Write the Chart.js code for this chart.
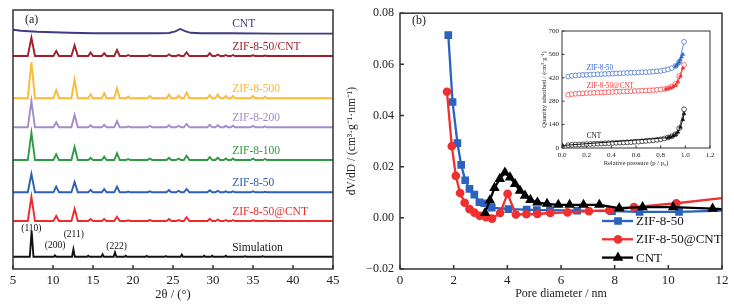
<!DOCTYPE html>
<html>
<head>
<meta charset="utf-8">
<script src="https://cdn.jsdelivr.net/npm/chart.js@4.4.0/dist/chart.umd.min.js"></script>
<style>
  body { margin: 0; background: #fff; width: 734px; height: 305px; overflow: hidden; position: relative; font-family: "Liberation Serif", "Times New Roman", serif; }
  canvas { position: absolute; }
  .tag { position: absolute; font-size: 12px; color: #222; }
</style>
</head>
<body>
<canvas id="xrd" width="345" height="305" style="left:0;top:0"></canvas>
<canvas id="pore" width="389" height="305" style="left:345px;top:0"></canvas>
<canvas id="iso" width="182" height="150" style="left:540px;top:20px"></canvas>
<div class="tag" style="left:25px;top:12px">(a)</div>
<div class="tag" style="left:412px;top:13px">(b)</div>
<script>
const SERIF = '"Liberation Serif", "Times New Roman", serif';
Chart.defaults.font.family = SERIF;
Chart.defaults.color = '#222';

// ---- (a) XRD patterns, intensities in arbitrary units above each baseline
const xrdNames = ['CNT', 'ZIF-8-50/CNT', 'ZIF-8-500', 'ZIF-8-200', 'ZIF-8-100', 'ZIF-8-50', 'ZIF-8-50@CNT', 'Simulation'];
const xrdColors = ['#3d3a80', '#a11f29', '#fbb938', '#a48ccc', '#2f9a40', '#2d5fb6', '#ef2a2e', '#111111'];
const xrdOffsets = [235.7, 213, 170.7, 141.7, 109, 76.7, 48, 12.3];

const cntTheta = [5, 6, 8, 10, 12, 15, 20, 23, 24.5, 25.3, 25.9, 26.5, 27.2, 28.5, 32, 38, 45];
const cntI     = [3.5, 2.5, 1.5, 1, 0.5, 0, 0, 0, 0.3, 2, 4.3, 2.2, 0.5, 0, 0, -0.3, -0.3];

const twoTheta = [5, 6.85, 7.3, 7.75, 10.05, 10.4, 10.75, 12.3, 12.7, 13.1, 14.4, 14.7, 15.0, 16.1, 16.4, 16.7,
  17.65, 18.0, 18.35, 19.15, 19.4, 19.65, 21.8, 22.1, 22.4, 24.2, 24.5, 24.8, 25.4, 25.7, 26.0, 26.35, 26.7, 27.05,
  29.3, 29.6, 29.9, 30.3, 30.6, 30.9, 31.35, 31.6, 31.85, 32.25, 32.5, 32.75, 34.7, 35.0, 35.3, 36.25, 36.5, 36.75, 45];
const zif50cntI = [0, 0,18.3,0, 0,5,0, 0,10.7,0, 0,3.5,0, 0,2.7,0, 0,6,0, 0,1,0, 0,1,0, 0,1.7,0, 0,1,0, 0,3.7,0,
  0,2.7,0, 0,1.5,0, 0,1,0, 0,1,0, 0,0.7,0, 0,0.5,0, 0];
const zif500I = [0, 0,36,0, 0,8.3,0, 0,18.7,0, 0,4,0, 0,5,0, 0,10,0, 0,1.7,0, 0,2.3,0, 0,3.7,0, 0,2.7,0, 0,5.7,0,
  0,3.3,0, 0,3.7,0, 0,2.3,0, 0,2.3,0, 0,2.3,0, 0,1.5,0, 0];
const zif200I = [0, 0,26.3,0, 0,5,0, 0,12.3,0, 0,2,0, 0,2.5,0, 0,6.3,0, 0,1,0, 0,1.5,0, 0,2,0, 0,1.5,0, 0,3.3,0,
  0,2.5,0, 0,2,0, 0,1.5,0, 0,1.5,0, 0,1.5,0, 0,1,0, 0];
const zif100I = [0, 0,27.3,0, 0,5.7,0, 0,13,0, 0,2,0, 0,3.3,0, 0,6.7,0, 0,1,0, 0,1.5,0, 0,2.3,0, 0,1.5,0, 0,4.3,0,
  0,3,0, 0,2.3,0, 0,1.5,0, 0,1.5,0, 0,1.5,0, 0,1,0, 0];
const zif50I = [0, 0,18.3,0, 0,5.7,0, 0,10.3,0, 0,2.5,0, 0,3.3,0, 0,5.7,0, 0,0.7,0, 0,1,0, 0,2.3,0, 0,1.5,0, 0,3.3,0,
  0,2,0, 0,1.5,0, 0,1,0, 0,1,0, 0,1,0, 0,0.5,0, 0];
const zif50atCntI = [0, 0,24.3,0, 0,5,0, 0,12,0, 0,2,0, 0,2,0, 0,4.3,0, 0,0.7,0, 0,1,0, 0,2,0, 0,1,0, 0,3.7,0,
  0,2.3,0, 0,1.5,0, 0,1,0, 0,1,0, 0,0.7,0, 0,0.5,0, 0];

const simTheta = [5, 7.1, 7.33, 7.56, 10.1, 10.25, 10.4, 12.38, 12.55, 12.72, 14.25, 14.4, 14.55, 16.05, 16.2, 16.35,
  17.58, 17.75, 17.92, 18.95, 19.1, 19.25, 21.55, 21.7, 21.85, 23.95, 24.1, 24.25, 25.95, 26.1, 26.25, 28.75, 28.9, 29.05,
  29.75, 29.9, 30.05, 31.45, 31.6, 31.75, 33.85, 34.0, 34.15, 36.05, 36.2, 36.35, 45];
const simI = [0, 0,25.7,0, 0,1.3,0, 0,7.4,0, 0,1,0, 0,2.3,0, 0,4.3,0, 0,1,0, 0,0.8,0, 0,0.7,0, 0,2,0, 0,1,0,
  0,1,0, 0,1,0, 0,0.5,0, 0,0.5,0, 0];

const xrdSeries = [[cntTheta, cntI], [twoTheta, zif50cntI], [twoTheta, zif500I], [twoTheta, zif200I],
  [twoTheta, zif100I], [twoTheta, zif50I], [twoTheta, zif50atCntI], [simTheta, simI]];
const xrdLabelTheta = 32.4;
const hklText = ['(110)', '(200)', '(211)', '(222)'];
const hklTheta = [7.3, 10.25, 12.6, 17.95];
const hklY = [40.7, 23.3, 35, 22.3];

// ---- (b) pore size distribution
const poreNames = ['ZIF-8-50', 'ZIF-8-50@CNT', 'CNT'];
const zif50D   = [1.80, 1.96, 2.14, 2.28, 2.43, 2.59, 2.77, 2.96, 3.14, 3.42, 4.04, 4.72, 5.1, 5.59, 6.6, 7.9, 8.93, 10.4, 12];
const zif50dV  = [0.0714, 0.0453, 0.0292, 0.0207, 0.0147, 0.0113, 0.0091, 0.0061, 0.0057, 0.0040, 0.0034, 0.0032, 0.0030, 0.0030, 0.0028, 0.0026, 0.0023, 0.0023, 0.0028];
const zifCntD  = [1.75, 1.93, 2.08, 2.24, 2.41, 2.59, 2.78, 2.97, 3.2, 3.43, 3.73, 4.01, 4.32, 4.71, 5.12, 5.6, 6.24, 7.04, 7.8, 8.72, 10.3, 12];
const zifCntdV = [0.0493, 0.028, 0.0164, 0.0097, 0.0059, 0.0034, 0.002, 0.0008, 0.0003, -0.0003, 0.0019, 0.0094, 0.0013, 0.0014, 0.0015, 0.0019, 0.0021, 0.0026, 0.0029, 0.0042, 0.0057, 0.0077];
const cntD     = [3.17, 3.35, 3.52, 3.72, 3.91, 4.1, 4.29, 4.47, 4.66, 4.86, 5.12, 5.48, 5.9, 6.32, 6.84, 7.43, 8.17, 9.04, 10.18, 11.65, 12];
const cntdV    = [0.0019, 0.0068, 0.0117, 0.0152, 0.0177, 0.0158, 0.0132, 0.0106, 0.0087, 0.007, 0.006, 0.0055, 0.0051, 0.0051, 0.0051, 0.0051, 0.0038, 0.0042, 0.0042, 0.0036, 0.0034];

// ---- inset: N2 isotherms
const isoP = [0.05, 0.08, 0.11, 0.14, 0.17, 0.20, 0.23, 0.26, 0.29, 0.32, 0.35, 0.38, 0.41, 0.44, 0.47, 0.50,
  0.53, 0.56, 0.59, 0.62, 0.65, 0.68, 0.71, 0.74, 0.77, 0.80, 0.83, 0.86, 0.89, 0.92, 0.95, 0.99];
const zif50Open = [428, 432, 434, 436, 437, 438, 439, 440, 441, 442, 443, 444, 445, 446, 447, 448,
  449, 450, 451, 452, 453, 454, 455, 457, 459, 461, 465, 470, 478, 490, 515, 635];
const zifCntOpen = [318, 322, 324, 326, 327, 328, 329, 330, 331, 332, 333, 334, 335, 336, 337, 338,
  339, 340, 341, 342, 343, 344, 345, 346, 348, 350, 353, 358, 367, 383, 430, 497];
const cntOpen = [17, 19, 20, 21, 22, 23, 24, 25, 26, 27, 28, 29, 30, 31, 32, 33,
  34, 35, 37, 38, 40, 42, 44, 46, 49, 52, 57, 63, 70, 82, 118, 231];
const zif50FillP = [0.92, 0.93, 0.94, 0.95, 0.96, 0.97, 0.98];
const zif50Fill  = [488, 495, 505, 515, 530, 545, 560];
const zifCntFillP = [0.84, 0.86, 0.88, 0.90, 0.92, 0.94, 0.96, 0.98];
const zifCntFill  = [352, 356, 360, 366, 375, 395, 430, 478];
const cntFillP = [0.005, 0.86, 0.88, 0.90, 0.92, 0.94, 0.96, 0.98, 0.99];
const cntFill  = [15, 62, 66, 72, 80, 95, 125, 170, 205];
const isoLabels = ['ZIF-8-50', 'ZIF-8-50@CNT', 'CNT'];
const isoColors = ['#3366cc', '#f03535', '#111111'];
const isoLabelP = [0.2, 0.2, 0.2];
const isoLabelQ = [480, 372, 72];

const pts = (xs, ys, off = 0) => xs.map((x, i) => ({ x, y: ys[i] + off }));

// box frame + inward tick marks
const frame = {
  id: 'frame',
  afterDatasetsDraw(chart, args, o) {
    const { ctx, chartArea: a } = chart;
    ctx.save();
    ctx.strokeStyle = o.color;
    ctx.lineWidth = o.width;
    ctx.strokeRect(a.left, a.top, a.right - a.left, a.bottom - a.top);
    ctx.beginPath();
    (o.axes || []).forEach(id => {
      const s = chart.scales[id];
      s.ticks.forEach(t => {
        const p = s.getPixelForValue(t.value);
        if (s.isHorizontal()) { ctx.moveTo(p, a.bottom); ctx.lineTo(p, a.bottom - o.len); }
        else { ctx.moveTo(a.left, p); ctx.lineTo(a.left + o.len, p); }
      });
    });
    ctx.stroke();
    ctx.restore();
  }
};

const xrdText = {
  id: 'xrdText',
  afterDatasetsDraw(chart) {
    const { ctx, scales: { x, y } } = chart;
    ctx.save();
    ctx.textBaseline = 'middle';
    ctx.font = '11.5px ' + SERIF;
    xrdNames.forEach((n, i) => {
      ctx.fillStyle = xrdColors[i];
      ctx.fillText(n, x.getPixelForValue(xrdLabelTheta), y.getPixelForValue(xrdOffsets[i] + 9));
    });
    ctx.font = '9.5px ' + SERIF;
    ctx.textAlign = 'center';
    ctx.fillStyle = '#111';
    hklText.forEach((t, i) => ctx.fillText(t, x.getPixelForValue(hklTheta[i]), y.getPixelForValue(hklY[i])));
    ctx.restore();
  }
};

new Chart(document.getElementById('xrd'), {
  type: 'line',
  data: {
    datasets: xrdSeries.map(([th, I], i) => ({
      label: xrdNames[i],
      data: pts(th, I, xrdOffsets[i]),
      borderColor: xrdColors[i],
      borderWidth: 1.9,
      pointRadius: 0,
      tension: 0
    }))
  },
  options: {
    responsive: false, animation: false, devicePixelRatio: 1,
    layout: { padding: { left: 13, right: 12, top: 10, bottom: 0 } },
    plugins: {
      legend: { display: false }, tooltip: { enabled: false },
      frame: { color: '#333', width: 1.5, len: 4, axes: ['x'] }
    },
    scales: {
      x: {
        type: 'linear', min: 5, max: 45,
        ticks: { stepSize: 5, padding: 4, font: { size: 13 } },
        grid: { display: false, drawTicks: false }, border: { display: false },
        title: { display: true, text: '2θ / (°)', font: { size: 12.5 }, padding: { top: 0, bottom: 3 } },
        afterFit(s) { s.height = 36; }
      },
      y: { display: false, min: 0, max: 259 }
    }
  },
  plugins: [frame, xrdText]
});

// (b) legend drawn inside the plot area
const poreLegend = {
  id: 'poreLegend',
  afterDraw(chart) {
    const { ctx } = chart;
    chart.data.datasets.forEach((d, i) => {
      const y = 221 + i * 18.3;
      ctx.save();
      ctx.strokeStyle = d.borderColor;
      ctx.fillStyle = d.backgroundColor;
      ctx.lineWidth = d.borderWidth;
      ctx.beginPath(); ctx.moveTo(257, y); ctx.lineTo(288, y); ctx.stroke();
      Chart.helpers.drawPoint(ctx, { pointStyle: d.pointStyle, radius: d.legendRadius, rotation: 0, borderWidth: 1 }, 273, y);
      ctx.fillStyle = '#111';
      ctx.font = '13px ' + SERIF;
      ctx.textBaseline = 'middle';
      ctx.fillText(poreNames[i], 291, y + 0.5);
      ctx.restore();
    });
  }
};

const endless = r => c => (c.raw && c.raw.x >= 12 ? 0 : r);

new Chart(document.getElementById('pore'), {
  type: 'line',
  data: {
    datasets: [
      { label: poreNames[0], data: pts(zif50D, zif50dV), borderColor: '#2b62c0', backgroundColor: '#2b62c0',
        borderWidth: 2.3, pointStyle: 'rect', pointRadius: endless(3.8), legendRadius: 3.8, order: 2 },
      { label: poreNames[1], data: pts(zifCntD, zifCntdV), borderColor: '#f03030', backgroundColor: '#f03030',
        borderWidth: 2.3, pointStyle: 'circle', pointRadius: endless(3.2), legendRadius: 3.2, order: 1 },
      { label: poreNames[2], data: pts(cntD, cntdV), borderColor: '#000', backgroundColor: '#000',
        borderWidth: 2.3, pointStyle: 'triangle', pointRadius: endless(3.8), legendRadius: 3.8, order: 0 }
    ]
  },
  options: {
    responsive: false, animation: false, devicePixelRatio: 1,
    layout: { padding: { left: 0, right: 12, top: 11, bottom: 0 } },
    plugins: {
      legend: { display: false }, tooltip: { enabled: false },
      frame: { color: '#333', width: 1.5, len: 4, axes: ['x', 'y'] }
    },
    scales: {
      x: {
        type: 'linear', min: 0, max: 12,
        ticks: { stepSize: 2, padding: 4, font: { size: 13 } },
        grid: { display: false, drawTicks: false }, border: { display: false },
        title: { display: true, text: 'Pore diameter / nm', font: { size: 12 }, padding: { top: 0, bottom: 4 } },
        afterFit(s) { s.height = 36; }
      },
      y: {
        min: -0.02, max: 0.08,
        ticks: { stepSize: 0.02, padding: 6, font: { size: 12 },
          callback: v => (v < -1e-9 ? '\u2212' : '') + Math.abs(v).toFixed(2) },
        grid: { display: false, drawTicks: false }, border: { display: false },
        title: { display: true, text: 'dV/dD / (cm³·g⁻¹·nm⁻¹)', font: { size: 11.5 }, padding: 0 },
        afterFit(s) { s.width = 55; }
      }
    }
  },
  plugins: [frame, poreLegend]
});

const isoText = {
  id: 'isoText',
  afterDatasetsDraw(chart) {
    const { ctx, scales: { x, y } } = chart;
    ctx.save();
    ctx.font = '7.2px ' + SERIF;
    ctx.textBaseline = 'middle';
    isoLabels.forEach((t, i) => {
      ctx.fillStyle = isoColors[i];
      ctx.fillText(t, x.getPixelForValue(isoLabelP[i]), y.getPixelForValue(isoLabelQ[i]));
    });
    ctx.restore();
  }
};

const openSet = (xs, ys, c) => ({ data: pts(xs, ys), borderColor: c, backgroundColor: '#fff', borderWidth: 0.7,
  pointStyle: 'circle', pointRadius: 2.4, pointBorderWidth: 0.7 });
const fillSet = (xs, ys, c) => ({ data: pts(xs, ys), borderColor: c, backgroundColor: c, borderWidth: 1,
  pointStyle: 'triangle', pointRadius: 2.2, pointBorderWidth: 0.5 });

new Chart(document.getElementById('iso'), {
  type: 'line',
  data: {
    datasets: [
      fillSet(zif50FillP, zif50Fill, isoColors[0]),
      fillSet(zifCntFillP, zifCntFill, isoColors[1]),
      fillSet(cntFillP, cntFill, isoColors[2]),
      openSet(isoP, zif50Open, isoColors[0]),
      openSet(isoP, zifCntOpen, isoColors[1]),
      openSet(isoP, cntOpen, isoColors[2])
    ]
  },
  options: {
    responsive: false, animation: false, devicePixelRatio: 1,
    layout: { padding: { left: 0, right: 12, top: 11, bottom: 0 } },
    plugins: {
      legend: { display: false }, tooltip: { enabled: false },
      frame: { color: '#333', width: 1, len: 2.5, axes: ['x', 'y'] }
    },
    scales: {
      x: {
        type: 'linear', min: 0, max: 1.2,
        ticks: { stepSize: 0.2, padding: 3, font: { size: 7 }, callback: v => v.toFixed(1) },
        grid: { display: false, drawTicks: false }, border: { display: false },
        title: { display: true, text: 'Relative pressure (p / p₀)', font: { size: 6.5 }, padding: { top: 0, bottom: 3 } },
        afterFit(s) { s.height = 22; }
      },
      y: {
        min: 0, max: 700,
        ticks: { stepSize: 140, padding: 3, font: { size: 7 } },
        grid: { display: false, drawTicks: false }, border: { display: false },
        title: { display: true, text: 'Quantity adsorbed / (cm³·g⁻¹)', font: { size: 6.5 }, padding: 0 },
        afterFit(s) { s.width = 22; }
      }
    }
  },
  plugins: [frame, isoText]
});
</script>
</body>
</html>
